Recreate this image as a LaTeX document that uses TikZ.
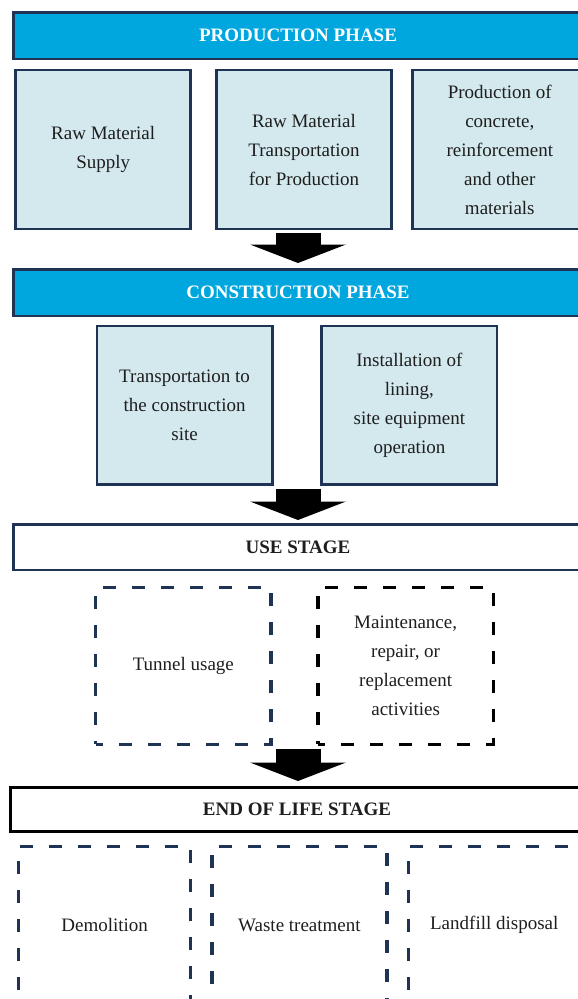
\documentclass[tikz,border=0pt]{standalone}
\usepackage{fontspec}
\setmainfont{Liberation Serif}
\usepackage{tikz}
\usetikzlibrary{positioning}
\usetikzlibrary{arrows.meta}
\definecolor{phaseblue}{RGB}{0,166,222}
\definecolor{boxfill}{RGB}{212,233,238}
\definecolor{navy}{RGB}{31,52,84}
\definecolor{ink}{RGB}{30,30,30}

\begin{document}
\begin{tikzpicture}[
            x = 1pt, y = -1pt, % page units, y running down
            font = \fontsize{19}{29}\selectfont, % text size
            text = ink,
            line join = miter
        ]

        \tikzstyle{phase}=[
            draw = navy,
            fill = phaseblue,
            line width = 2.5pt,
            minimum width = 569.5pt,
            minimum height = 46.5pt,
            text = white,
            font = \fontsize{19}{29}\selectfont\bfseries
        ]
        \tikzstyle{stage}=[
            phase,
            fill = white,
            text = ink
        ]
        \tikzstyle{box}=[
            draw = navy,
            fill = boxfill,
            line width = 2.8pt,
            minimum width = 175.2pt,
            minimum height = 159pt,
            inner sep = 0pt,
            align = center
        ]
        \tikzstyle{dashbox}=[
            box,
            fill = none,
            line width = 3.3pt,
            dash pattern = on 13pt off 16pt,
            dash phase = 6pt
        ]
        \tikzstyle{flow}=[
            line width = 45pt,
            -{Triangle[width=96pt, length=18.5pt, line width=0pt]},
            shorten < = 3pt
        ]

        \useasboundingbox (0,0) rectangle (578,999);
        \clip (0,0) rectangle (578,999);

        % production phase
        \node[phase] (prod) at (298,35.5) {PRODUCTION PHASE};
        \node[box] (raw) [below right=8.6pt and 2.2pt of prod.south west, anchor=north west] {Raw Material\\Supply};
        \node[box] (rawtpt) [right=22.8pt of raw] {Raw Material\\Transportation\\for Production};
        \node[box] (prodmat) [right=17.8pt of rawtpt] {Production of\\concrete,\\reinforcement\\and other\\materials};

        % construction phase
        \node[phase] (constr) at (298,292.5) {CONSTRUCTION PHASE};
        \node[box, minimum height=158.2pt] (transp) [below left=7.6pt and 24.4pt of constr.south] {Transportation to\\the construction\\site};
        \node[box, minimum height=158.2pt] (install) [below right=7.6pt and 22.4pt of constr.south] {Installation of\\lining,\\site equipment\\operation};

        \path[flow] (prod.south |- rawtpt.south) edge ([yshift=5pt]prod.south |- constr.north);

        % use stage
        \node[stage, minimum height=45.5pt] (use) at (298,547) {USE STAGE};
        \node[dashbox, minimum height=157pt] (tunnel) [below left=14.6pt and 25.4pt of use.south] {Tunnel usage};
        \node[dashbox, draw=black, minimum height=157pt] (maint) [below right=14.6pt and 18.4pt of use.south] {Maintenance,\\repair, or\\replacement\\activities};

        \path[flow] (constr.south |- transp.south) edge ([yshift=3pt]constr.south |- use.north);

        % end of life stage
        \node[stage, draw=black, line width=3pt, minimum width=573pt, minimum height=44pt] (eol) at (297,809.5) {END OF LIFE STAGE};
        \node[dashbox, minimum width=172.2pt, minimum height=157pt] (demol) [below right=11.9pt and 7.9pt of eol.south west, anchor=north west] {Demolition};
        \node[dashbox, minimum height=157pt] (waste) [right=17.8pt of demol] {Waste treatment};
        \node[dashbox, minimum width=172.2pt, minimum height=157pt] (landfill) [right=17.8pt of waste] {Landfill disposal};

        \path[flow] (use.south |- tunnel.south) edge ([yshift=5pt]use.south |- eol.north);

\end{tikzpicture}
\end{document}
